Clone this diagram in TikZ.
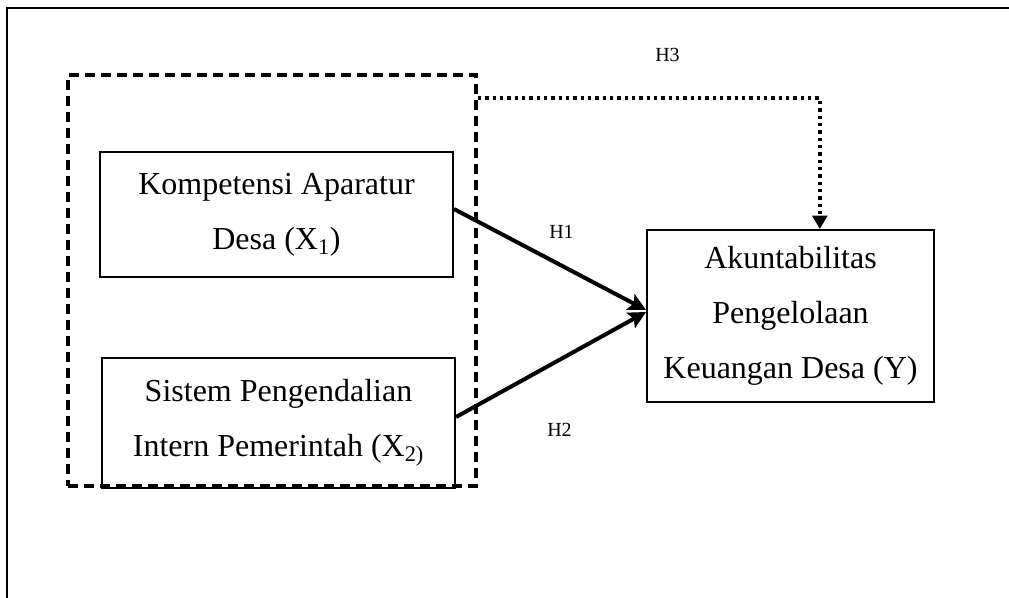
\documentclass[tikz,border=0pt]{standalone}
\usepackage{fontspec}
\setmainfont{Liberation Serif}
\usetikzlibrary{arrows.meta}
\tikzset{
  x=0.75pt, y=-0.75pt,
  varbox/.style={draw, line width=1.5pt, align=center, inner sep=0pt,
    font=\fontsize{24}{41}\selectfont},
  groupbox/.style={draw, line width=2.8pt, dash pattern=on 7.5pt off 4.5pt, inner sep=0pt},
  patharrow/.style={line width=3pt, -{Stealth[length=13pt,width=13pt,inset=2.5pt]}},
  dotarrow/.style={line width=3pt, dash pattern=on 2.6pt off 2.9pt,
    -{Triangle[length=10pt,width=11pt]}},
  hlabel/.style={font=\fontsize{15}{17}\selectfont, inner sep=0pt},
  frameline/.style={line width=1.6pt}
}
\begin{document}
\begin{tikzpicture}
\useasboundingbox (0,0) rectangle (1009,597);
\begin{scope}
  \clip (0,0) rectangle (1009,597);
  \draw[frameline] (7,620) -- (7,8) -- (1030,8);
\end{scope}

\node[groupbox, minimum width=306pt, minimum height=308.25pt] (g) at (272,280.5) {};

\node[varbox, minimum width=264.75pt, minimum height=93.75pt] (k) at (276.5,214.5)
  {Kompetensi Aparatur\\Desa (X\textsubscript{1})};
\node[varbox, minimum width=264.75pt, minimum height=97.5pt] (s) at (278.5,423)
  {Sistem Pengendalian\\Intern Pemerintah (X\textsubscript{2)}};
\node[varbox, minimum width=215.25pt, minimum height=129pt] (y) at (790.5,316)
  {Akuntabilitas\\Pengelolaan\\Keuangan Desa (Y)};

\draw[patharrow] ([yshift=4.1pt]k.east) -- ([yshift=4.5pt]y.west);
\draw[patharrow] ([yshift=4.5pt]s.east) -- ([yshift=3pt]y.west);
\draw[dotarrow] ([yshift=-18.75pt]g.north east) -| ([xshift=22pt]y.north);

\node[hlabel] (h1) at (561.5,231.5) {H1};
\node[hlabel] (h2) at (559.5,430) {H2};
\node[hlabel] (h3) at (667.5,55) {H3};
\end{tikzpicture}
\end{document}
